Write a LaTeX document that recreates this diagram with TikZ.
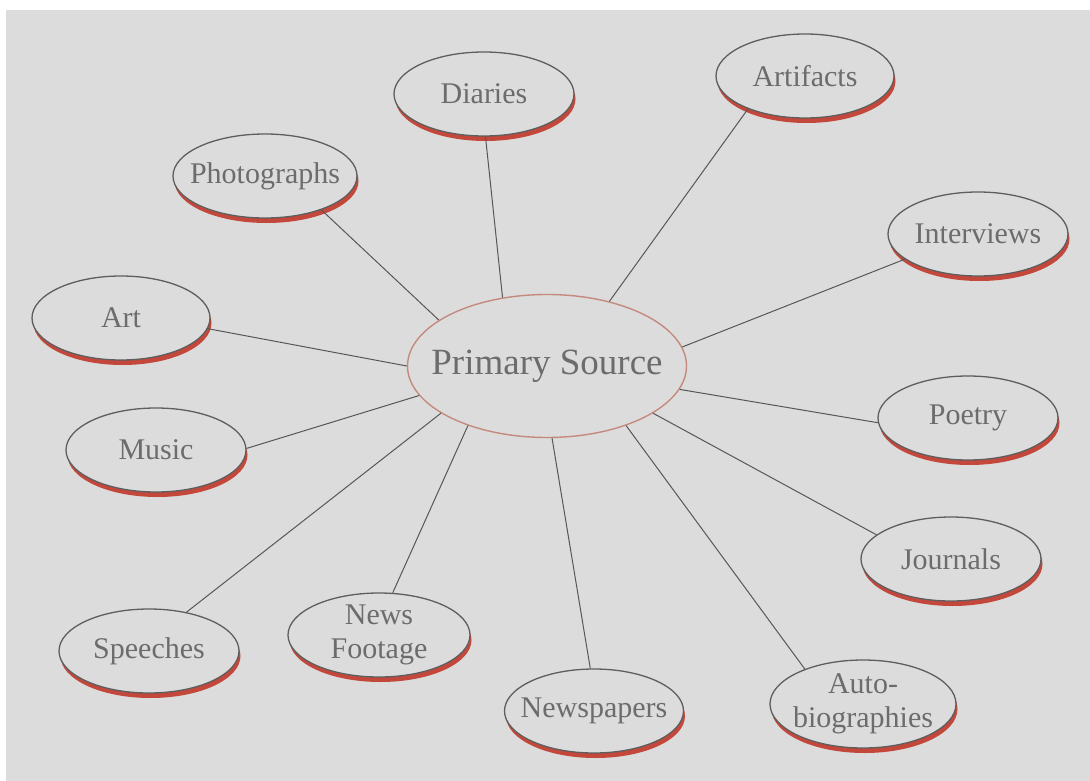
\documentclass[tikz,border=0pt]{standalone}
\usepackage{fontspec}
\setmainfont{Liberation Serif}
\usetikzlibrary{shapes.geometric,shadows}
\definecolor{bgc}{HTML}{DCDCDC}
\definecolor{outc}{HTML}{5E5E5E}
\definecolor{redc}{HTML}{C4473B}
\definecolor{txtc}{HTML}{6C6C6C}
\definecolor{linec}{HTML}{575757}
\definecolor{mainc}{HTML}{C58A7E}
\begin{document}
\begin{tikzpicture}[x=1pt,y=-1pt,
  lbl/.style={font=\fontsize{30}{34}\selectfont, text=txtc, align=center, inner sep=0pt},
  bub/.style={ellipse, draw=outc, line width=1.3pt, fill=bgc,
    minimum width=180pt, minimum height=84pt, inner sep=0pt,
    drop shadow={shadow xshift=1.5pt, shadow yshift=-5pt, fill=redc, opacity=1}},
  mainbub/.style={ellipse, draw=mainc, line width=1.4pt, fill=bgc,
    minimum width=279pt, minimum height=143pt, inner sep=0pt},
  edge/.style={draw=linec, line width=1pt}]
\useasboundingbox (0,0) rectangle (1090,781);
\fill[white] (0,0) rectangle (1090,781);
\fill[bgc] (6,10) rectangle (1090,781);

\node[mainbub, label={[lbl, font=\fontsize{37}{40}\selectfont]center:Primary Source}] (ps) at (547,366) {};

\node[bub, label={[lbl]center:Diaries}] (diaries) at (484,94) {};
\node[bub, minimum width=178pt, label={[lbl]center:Artifacts}] (artifacts) at (805,76) {};
\node[bub, minimum width=184pt, label={[lbl]center:Photographs}] (photo) at (265,176) {};
\node[bub, label={[lbl]center:Interviews}] (interviews) at (978,234) {};
\node[bub, minimum width=178pt, label={[lbl]center:Art}] (art) at (121,318) {};
\node[bub, label={[lbl]center:Music}] (music) at (156,450) {};
\node[bub, label={[lbl]center:Poetry}] (poetry) at (968,418) {};
\node[bub, label={[lbl]center:Journals}] (journals) at (951,559) {};
\node[bub, label={[lbl]center:Speeches}] (speeches) at (149,651) {};
\node[bub, minimum width=182pt, label={[lbl]center:News\\Footage}] (news) at (379,635) {};
\node[bub, minimum width=179pt, label={[lbl]center:Newspapers}] (newspapers) at (594,711) {};
\node[bub, minimum width=186pt, minimum height=88pt, label={[lbl]center:Auto-\\biographies}] (auto) at (863,704) {};

\draw[edge] (ps.123) -- (diaries.-88);
\draw[edge] (ps.46) -- (artifacts.210);
\draw[edge] (ps.157) -- (photo.-31);
\draw[edge] (ps.8) -- (interviews.199);
\draw[edge] (ps.180) -- (art.-7);
\draw[edge] (ps.-10) -- (poetry.183);
\draw[edge] (ps.193) -- (music.1);
\draw[edge] (ps.-24) -- (journals.162);
\draw[edge] (ps.204) -- (speeches.46);
\draw[edge] (ps.217) -- (news.72);
\draw[edge] (ps.274) -- (newspapers.95);
\draw[edge] (ps.-37) -- (auto.149);
\end{tikzpicture}
\end{document}
